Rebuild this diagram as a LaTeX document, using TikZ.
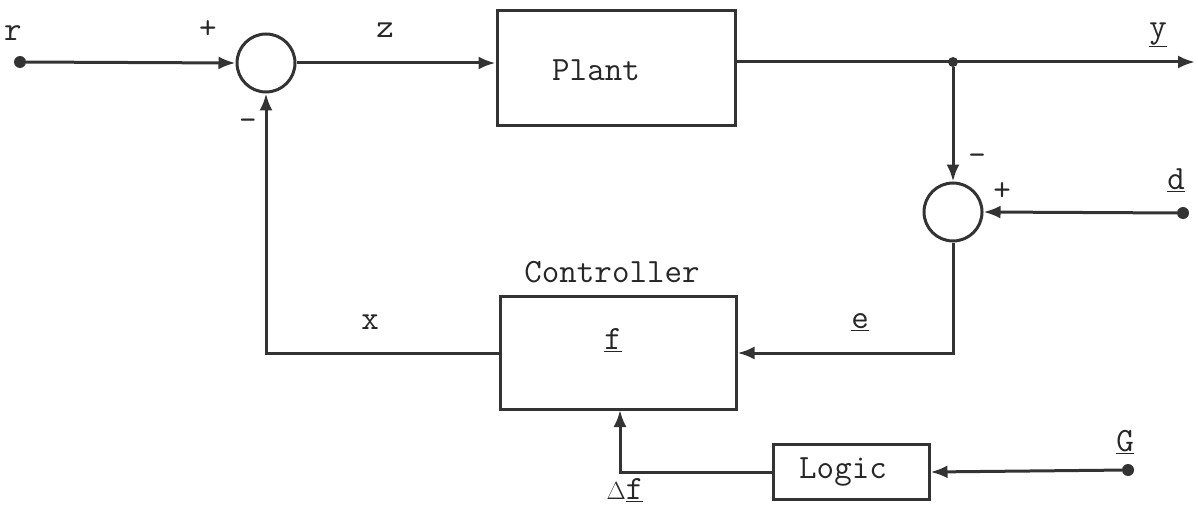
\documentclass[tikz,border=0pt]{standalone}
\usetikzlibrary{arrows.meta}
\begin{document}
\begin{tikzpicture}[x=1pt,y=-1pt,
  every node/.style={font=\ttfamily\fontsize{34}{40}\selectfont, text=black!85},
  blockbox/.style={draw=black!80, line width=3pt, inner sep=0pt},
  sumnode/.style={circle, draw=black!80, line width=3pt, minimum size=58pt, inner sep=0pt},
  dotnode/.style={circle, fill=black!80, inner sep=0pt, minimum size=12pt},
  lbl/.style={inner sep=0pt},
  sig/.style={-{Latex[length=17pt,width=13pt]}, draw=black!80, line width=3pt}]
\useasboundingbox (0,0) rectangle (1198,508);
% nodes
\node[dotnode] (r) at (20,62) {};
\node[sumnode] (s1) at (266,63) {};
\node[blockbox, minimum width=238pt, minimum height=114pt] (plant) at (616,68) {};
\node[lbl] (pl) at (596,70) {Plant};
\coordinate (yend) at (1195,62);
\node[dotnode, minimum size=10pt] (j) at (953,62) {};
\node[sumnode] (s2) at (953,212) {};
\node[dotnode] (d) at (1183,213) {};
\node[blockbox, minimum width=236pt, minimum height=113pt] (ctrl) at (618,353) {};
\node[lbl] (f) at (613,340) {\underline{f}};
\node[blockbox, minimum width=156pt, minimum height=55pt] (logic) at (851,472) {};
\node[lbl] (ll) at (843,472) {Logic};
\node[dotnode] (G) at (1128,470) {};
\coordinate (cin) at (620,410);
% connectors
\draw[sig] (r) -- (s1.west);
\draw[sig] (s1.east) -- (plant.west |- s1.east);
\draw[sig] (plant.east |- yend) -- (yend);
\draw[sig] (j) -- (s2.north);
\draw[sig] (d) -- (s2.east);
\draw[sig] (s2.south) |- (ctrl.east);
\draw[sig] (ctrl.west) -| (s1.south);
\draw[sig] (G) -- (logic.east);
\draw[sig] (logic.west) -| (cin);
% labels
\node[lbl] (rl) at (13,33) {r};
\node[lbl] (p1) at (208,30) {+};
\node[lbl] (m1) at (248,125) {-};
\node[lbl] (zl) at (385,30) {z};
\node[lbl] (yl) at (1158,35) {\underline{y}};
\node[lbl] (m2) at (977,160) {-};
\node[lbl] (p2) at (1002,192) {+};
\node[lbl] (dl) at (1176,180) {\underline{d}};
\node[lbl] (cl) at (612,272) {Controller};
\node[lbl] (xl) at (370,322) {x};
\node[lbl] (el) at (860,322) {\underline{e}};
\node[lbl] (Gl) at (1125,442) {\underline{G}};
\node[lbl] (dfl) at (625,490) {$\Delta$\underline{f}};
\end{tikzpicture}
\end{document}
